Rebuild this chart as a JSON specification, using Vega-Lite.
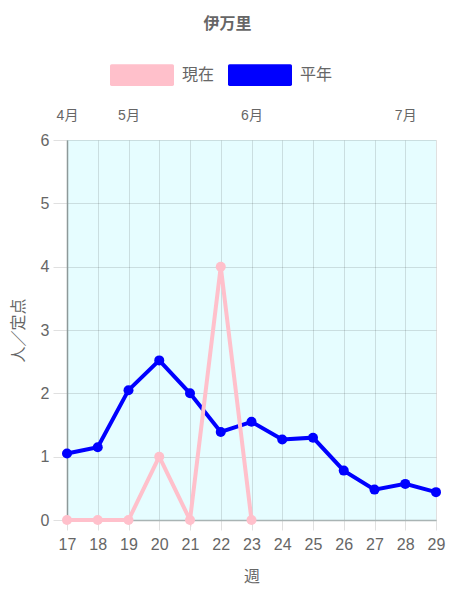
{
  "$schema": "https://vega.github.io/schema/vega-lite/v6.json",
  "autosize": {"type": "none"},
  "width": 369,
  "height": 380,
  "padding": {"left": 67, "top": 140, "right": 14, "bottom": 80},
  "background": "white",
  "config": {
    "font": "Liberation Sans, Noto Sans CJK JP",
    "view": {"fill": "#e6fdff", "stroke": null},
    "axis": {"labelColor": "#666", "titleColor": "#666", "labelFont": "Liberation Sans, Noto Sans CJK JP", "titleFont": "Liberation Sans, Noto Sans CJK JP"}
  },
  "title": {
    "text": "伊万里",
    "fontSize": 16,
    "fontWeight": "bold",
    "color": "#666",
    "anchor": "middle",
    "frame": "bounds",
    "offset": 11
  },
  "data": {
    "values": [
      {"week": 17, "series": "平年", "value": 1.05},
      {"week": 18, "series": "平年", "value": 1.15},
      {"week": 19, "series": "平年", "value": 2.05},
      {"week": 20, "series": "平年", "value": 2.52},
      {"week": 21, "series": "平年", "value": 2.0},
      {"week": 22, "series": "平年", "value": 1.39},
      {"week": 23, "series": "平年", "value": 1.55},
      {"week": 24, "series": "平年", "value": 1.27},
      {"week": 25, "series": "平年", "value": 1.3},
      {"week": 26, "series": "平年", "value": 0.78},
      {"week": 27, "series": "平年", "value": 0.48},
      {"week": 28, "series": "平年", "value": 0.57},
      {"week": 29, "series": "平年", "value": 0.44},
      {"week": 17, "series": "現在", "value": 0},
      {"week": 18, "series": "現在", "value": 0},
      {"week": 19, "series": "現在", "value": 0},
      {"week": 20, "series": "現在", "value": 1},
      {"week": 21, "series": "現在", "value": 0},
      {"week": 22, "series": "現在", "value": 4},
      {"week": 23, "series": "現在", "value": 0}
    ]
  },
  "layer": [
    {
      "transform": [{"filter": "datum.series === '平年'"}],
      "mark": {"type": "line", "strokeWidth": 4, "point": {"filled": true, "size": 100}},
      "encoding": {
        "x": {
          "field": "week", "type": "quantitative",
          "scale": {"domain": [17, 29], "nice": false, "zero": false},
          "axis": {
            "orient": "bottom",
            "values": [17,18,19,20,21,22,23,24,25,26,27,28,29],
            "format": "d",
            "labelFlush": false,
            "labelOverlap": false,
            "labelBound": false,
            "title": "週",
            "titleFontSize": 16, "titleFontWeight": "normal", "titlePadding": 16,
            "labelFontSize": 16, "labelPadding": 6,
            "tickSize": 10, "tickColor": "rgba(0,0,0,0.12)",
            "grid": true, "gridColor": "rgba(0,0,0,0.12)",
            "domainColor": "#a9b4b4", "domainWidth": 1.5
          }
        },
        "y": {
          "field": "value", "type": "quantitative",
          "scale": {"domain": [0, 6], "nice": false},
          "axis": {
            "values": [0,1,2,3,4,5,6],
            "format": "d",
            "labelFlush": false,
            "labelOverlap": false,
            "title": "人／定点",
            "titleFontSize": 16, "titleFontWeight": "normal", "titlePadding": 14,
            "labelFontSize": 16, "labelPadding": 4,
            "tickSize": 14, "tickColor": "rgba(0,0,0,0.12)",
            "grid": true, "gridColor": "rgba(0,0,0,0.12)",
            "domainColor": "#8d9999", "domainWidth": 1.5
          }
        },
        "color": {
          "field": "series", "type": "nominal",
          "scale": {"domain": ["現在", "平年"], "range": ["#ffc0cb", "#0000ff"]},
          "legend": {
            "title": null,
            "orient": "none",
            "direction": "horizontal",
            "legendX": 43,
            "legendY": -97,
            "symbolType": "M-0.95,-0.34H0.95Q1,-0.34 1,-0.29V0.29Q1,0.34 0.95,0.34H-0.95Q-1,0.34 -1,0.29V-0.29Q-1,-0.34 -0.95,-0.34Z",
            "symbolSize": 4096,
            "symbolStrokeWidth": 0,
            "labelFontSize": 16,
            "labelColor": "#666",
            "labelOffset": 8,
            "columnPadding": 13,
            "encode": {"symbols": {"update": {"fill": {"scale": "color", "field": "value"}, "stroke": {"value": "transparent"}, "opacity": {"value": 1}}}}
          }
        }
      }
    },
    {
      "transform": [{"filter": "datum.series === '現在'"}],
      "mark": {"type": "line", "strokeWidth": 4, "point": {"filled": true, "size": 100}},
      "encoding": {
        "x": {
          "field": "week", "type": "quantitative",
          "axis": {
            "orient": "top",
            "values": [17, 19, 23, 28],
            "labelExpr": "datum.value == 17 ? '4月' : datum.value == 19 ? '5月' : datum.value == 23 ? '6月' : '7月'",
            "labelFlush": false,
            "labelOverlap": false,
            "title": null,
            "labelFontSize": 14,
            "labelPadding": 18,
            "ticks": false,
            "domain": false,
            "grid": false
          }
        },
        "y": {"field": "value", "type": "quantitative"},
        "color": {"field": "series", "type": "nominal"}
      }
    }
  ],
  "resolve": {"axis": {"x": "independent"}}
}
